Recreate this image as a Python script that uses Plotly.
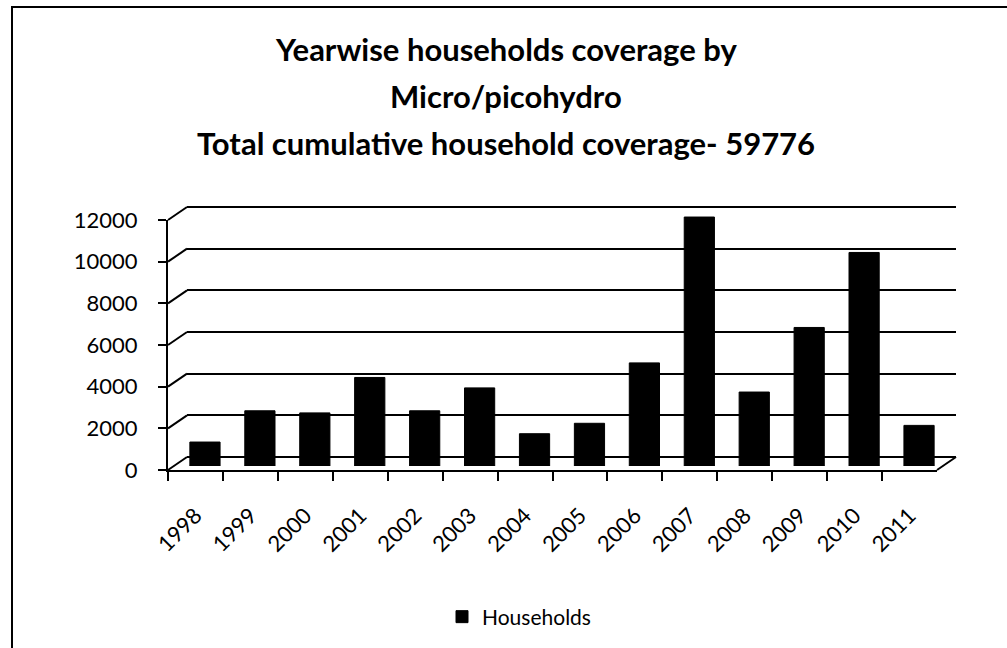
import plotly.graph_objects as go

years = ['1998', '1999', '2000', '2001', '2002', '2003', '2004',
         '2005', '2006', '2007', '2008', '2009', '2010', '2011']
households = [1150, 2650, 2550, 4250, 2650, 3750, 1550,
              2050, 4950, 11950, 3550, 6650, 10250, 1950]
y_ticks = [0, 2000, 4000, 6000, 8000, 10000, 12000]
title_lines = ["Yearwise households coverage by",
               "Micro/picohydro",
               "Total cumulative household coverage- 59776"]

W, H = 1007, 648
FONT = "Lato, Carlito, Calibri, sans-serif"

def px_x(p):
    return p / W

def px_y(p):
    return 1 - p / H

ymax = 12000
yrange_max = 12150          # a little headroom so the 12000 gridline is drawn
px_per_unit = 250 / ymax    # 0 -> 12000 spans 250 px

# front plane (axes, labels), back wall (gridlines), bar plane (middle depth)
front_x = (168, 937)
front_y0 = 470
depth_dx, depth_dy = 19, 13
back_x = (front_x[0] + depth_dx, front_x[1] + depth_dx)
back_y0 = front_y0 - depth_dy
bar_x = (front_x[0] + 9.5, front_x[1] + 9.5)
bar_y0 = front_y0 - 4

def ydom(y0px, top_val):
    return [px_y(y0px), px_y(y0px - top_val * px_per_unit)]

fig = go.Figure()
# invisible carriers so the front axes and back wall get drawn
for ax, ay in (("x", "y"), ("x2", "y2")):
    fig.add_trace(go.Bar(x=years, y=households, opacity=0,
                         marker=dict(color="rgba(0,0,0,0)", line=dict(width=0)),
                         xaxis=ax, yaxis=ay, showlegend=False, hoverinfo="skip"))
fig.add_trace(go.Bar(x=years, y=households, name="Households",
                     marker=dict(color="black", line=dict(color="black", width=1)),
                     width=0.55, xaxis="x3", yaxis="y3", showlegend=True))

cat_axis = dict(type="category", categoryorder="array", categoryarray=years,
                range=[-0.5, len(years) - 0.5], automargin=False)
fig.update_layout(
    width=W, height=H,
    margin=dict(l=0, r=0, t=0, b=0, autoexpand=False),
    paper_bgcolor="white", plot_bgcolor="rgba(0,0,0,0)",
    font=dict(family=FONT, color="black"),
    xaxis=dict(domain=[px_x(front_x[0]), px_x(front_x[1])], **cat_axis,
               showline=True, linecolor="black",
               linewidth=2, ticks="outside", tickson="boundaries", ticklen=9,
               tickwidth=2, tickcolor="black", tickangle=-45,
               ticklabelstandoff=22,
               tickfont=dict(family=FONT, size=22, color="black"),
               showgrid=False, zeroline=False, anchor="y"),
    yaxis=dict(domain=[px_y(front_y0), px_y(front_y0 - ymax * px_per_unit)],
               range=[0, ymax], automargin=False,
               tickvals=y_ticks, tickformat="d", showline=True,
               linecolor="black", linewidth=2,
               ticks="outside", ticklen=8, tickwidth=2, tickcolor="black",
               ticklabelstandoff=16,
               tickfont=dict(family=FONT, size=22, color="black"),
               showgrid=False, zeroline=False, anchor="x"),
    xaxis2=dict(domain=[px_x(back_x[0]), px_x(back_x[1])], **cat_axis,
                showgrid=False, zeroline=False, showline=False,
                showticklabels=False, ticks="", anchor="y2"),
    yaxis2=dict(domain=ydom(back_y0, yrange_max), range=[0, yrange_max],
                automargin=False,
                tickvals=y_ticks, showgrid=True, gridcolor="black", gridwidth=2,
                zeroline=True, zerolinecolor="black", zerolinewidth=2,
                showticklabels=False, ticks="", showline=False, anchor="x2"),
    xaxis3=dict(domain=[px_x(bar_x[0]), px_x(bar_x[1])], **cat_axis,
                visible=False, anchor="y3"),
    yaxis3=dict(domain=ydom(bar_y0, yrange_max), range=[0, yrange_max],
                automargin=False, visible=False, anchor="x3"),
    legend=dict(orientation="h", x=px_x(519), xanchor="center",
                y=px_y(617), yanchor="middle",
                font=dict(family=FONT, size=21, color="black"),
                bgcolor="rgba(0,0,0,0)"),
)

# title, three lines
for line, ypx in zip(title_lines, [49, 96, 143]):
    fig.add_annotation(text="<b>" + line + "</b>", x=px_x(506), y=px_y(ypx),
                       xref="paper", yref="paper", showarrow=False,
                       xanchor="center", yanchor="middle",
                       font=dict(family=FONT, size=31, color="black"))

# 3D connectors between front axis and back-wall gridlines
shapes = []
for v in y_ticks:
    yf = front_y0 - v * px_per_unit
    yb = back_y0 - v * px_per_unit
    shapes.append(dict(type="line", xref="paper", yref="paper",
                       x0=px_x(front_x[0]), y0=px_y(yf),
                       x1=px_x(back_x[0]), y1=px_y(yb),
                       line=dict(color="black", width=2)))
# floor right edge
shapes.append(dict(type="line", xref="paper", yref="paper",
                   x0=px_x(front_x[1]), y0=px_y(front_y0),
                   x1=px_x(back_x[1]), y1=px_y(back_y0),
                   line=dict(color="black", width=2)))
# outer chart frame (cropped at right and bottom)
shapes.append(dict(type="rect", xref="paper", yref="paper",
                   x0=px_x(12), y0=px_y(7), x1=1.05, y1=-0.05,
                   line=dict(color="black", width=2), fillcolor="rgba(0,0,0,0)"))
fig.update_layout(shapes=shapes)

fig.write_html("out.html")
